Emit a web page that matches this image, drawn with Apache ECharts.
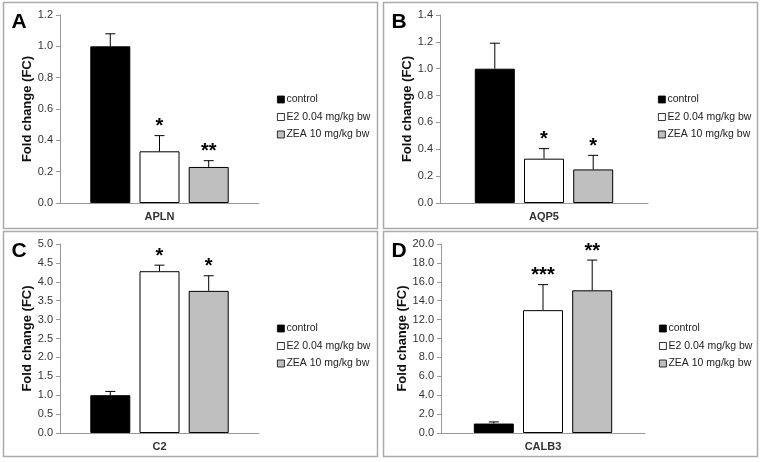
<!DOCTYPE html>
<html>
<head>
    <meta charset="UTF-8">
    <title>Fold change</title>
    <script src="https://cdn.jsdelivr.net/npm/echarts@6/dist/echarts.min.js"></script>
    <style>
        html, body { margin: 0; padding: 0; background: #fff; }
        #chart { width: 764px; height: 462px; }
    </style>
</head>
<body>
    <div id="chart"></div>
    <script>
        // data
        const genes = ['APLN', 'AQP5', 'C2', 'CALB3'];
        const panelLetters = ['A', 'B', 'C', 'D'];
        const groups = ['control', 'E2 0.04 mg/kg bw', 'ZEA 10 mg/kg bw'];
        const controlMeans = [1.0, 1.0, 1.0, 1.0];
        const controlErr = [0.08, 0.19, 0.10, 0.17];
        const e2Means = [0.33, 0.33, 4.28, 13.0];
        const e2Err = [0.10, 0.075, 0.16, 2.7];
        const zeaMeans = [0.23, 0.25, 3.76, 15.1];
        const zeaErr = [0.04, 0.105, 0.40, 3.2];
        const controlStars = ['', '', '', ''];
        const e2Stars = ['*', '*', '*', '***'];
        const zeaStars = ['**', '*', '*', '**'];
        const yMax = [1.2, 1.4, 5.0, 20.0];
        const yStep = [0.2, 0.2, 0.5, 2.0];

        const FONT = '"Liberation Sans", Arial, sans-serif';
        const barColors = ['#000000', '#ffffff', '#bfbfbf'];

        // panel layout
        const boxes = [
            { x: 3.5, y: 2.5, w: 374, h: 226 },
            { x: 383.5, y: 2.5, w: 374, h: 226 },
            { x: 3.5, y: 231.5, w: 374, h: 225 },
            { x: 383.5, y: 231.5, w: 374, h: 225 }
        ];
        const grids = [
            { left: 60, top: 15, width: 199, height: 188 },
            { left: 440, top: 15, width: 208, height: 188 },
            { left: 60, top: 244, width: 199, height: 189 },
            { left: 441, top: 244, width: 204, height: 189 }
        ];
        const legendPos = [
            { left: 277, top: 94 },
            { left: 658, top: 94 },
            { left: 277, top: 323 },
            { left: 659, top: 323 }
        ];

        const means = [controlMeans, e2Means, zeaMeans];
        const errs = [controlErr, e2Err, zeaErr];
        const stars = [controlStars, e2Stars, zeaStars];

        const option = {
            animation: false,
            textStyle: { fontFamily: FONT },
            grid: grids,
            xAxis: genes.map((g, i) => ({
                type: 'category',
                gridIndex: i,
                data: [g],
                axisLine: { lineStyle: { color: '#999', width: 1 } },
                axisTick: { show: false },
                axisLabel: { fontSize: 11, fontWeight: 'bold', color: '#333', margin: 8 }
            })),
            yAxis: genes.map((g, i) => ({
                type: 'value',
                gridIndex: i,
                min: 0,
                max: yMax[i],
                interval: yStep[i],
                name: 'Fold change (FC)',
                nameLocation: 'middle',
                nameGap: 26,
                nameTextStyle: { fontSize: 13, fontWeight: 'bold', color: '#111' },
                axisLine: { show: true, lineStyle: { color: '#999' } },
                axisTick: { show: true, inside: false, length: 4, lineStyle: { color: '#999' } },
                splitLine: { show: false },
                axisLabel: { fontSize: 11, color: '#333', margin: 7, formatter: v => v.toFixed(1) }
            })),
            legend: legendPos.map(p => ({
                left: p.left,
                top: p.top,
                padding: 0,
                orient: 'vertical',
                icon: 'rect',
                itemWidth: 7,
                itemHeight: 7,
                itemGap: 6.5,
                data: groups,
                itemStyle: { borderWidth: 0.8 },
                textStyle: { fontSize: 10.5, color: '#222', padding: [0, 0, 0, -3] }
            })),
            graphic: boxes.map((b, i) => ({
                type: 'group',
                children: [
                    { type: 'rect', shape: { x: b.x, y: b.y, width: b.w, height: b.h },
                      style: { fill: 'none', stroke: '#aaa', lineWidth: 1.5 } },
                    { type: 'text', x: b.x + 8, y: b.y + 9,
                      style: { text: panelLetters[i], font: 'bold 21px ' + FONT, fill: '#000' } }
                ]
            })),
            series: []
        };

        genes.forEach((g, i) => {
            groups.forEach((name, k) => {
                option.series.push({
                    type: 'bar',
                    name: name,
                    xAxisIndex: i,
                    yAxisIndex: i,
                    barWidth: 40,
                    barGap: '23%',
                    itemStyle: { color: barColors[k], borderColor: '#000', borderWidth: 1 },
                    data: [means[k][i]]
                });
            });
            // error bars (upper half) and significance stars
            option.series.push({
                type: 'custom',
                xAxisIndex: i,
                yAxisIndex: i,
                z: 5,
                data: groups.map((name, k) => [0, means[k][i], means[k][i] + errs[k][i], k, stars[k][i]]),
                renderItem: function (params, api) {
                    const k = api.value(3);
                    const base = api.coord([0, api.value(1)]);
                    const top = api.coord([0, api.value(2)]);
                    const x = base[0] + (k - 1) * 49.2;
                    const children = [
                        { type: 'line', shape: { x1: x, y1: base[1], x2: x, y2: top[1] },
                          style: { stroke: '#000', lineWidth: 1 } },
                        { type: 'line', shape: { x1: x - 5, y1: top[1], x2: x + 5, y2: top[1] },
                          style: { stroke: '#000', lineWidth: 1 } }
                    ];
                    const star = stars[k][i];
                    if (star) {
                        children.push({
                            type: 'text',
                            x: x,
                            y: top[1] + 1,
                            style: { text: star, font: 'bold 20px ' + FONT, fill: '#000',
                                     textAlign: 'center', textVerticalAlign: 'bottom' }
                        });
                    }
                    return { type: 'group', children: children };
                }
            });
        });

        const chart = echarts.init(document.getElementById('chart'));
        chart.setOption(option);
    </script>
</body>
</html>
